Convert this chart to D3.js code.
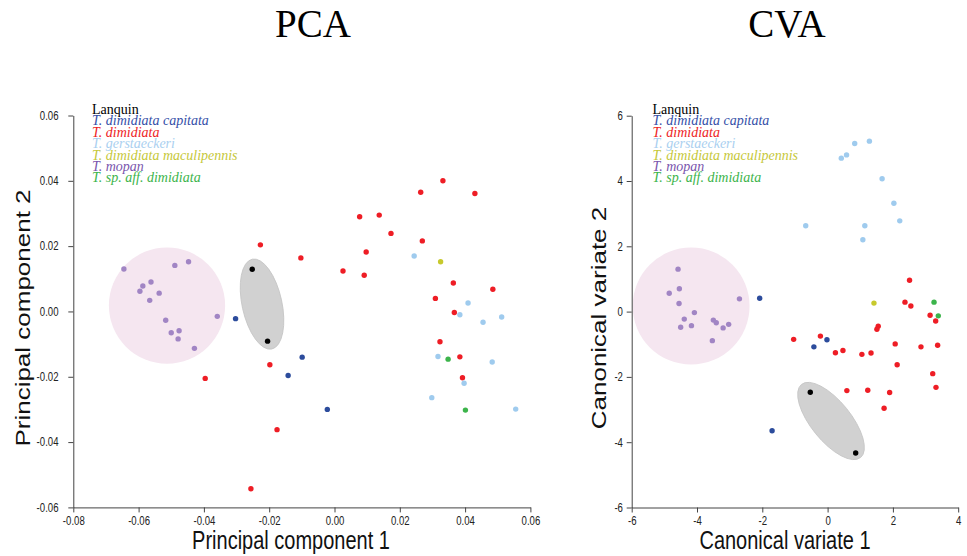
<!DOCTYPE html>
<html><head><meta charset="utf-8">
<script src="https://cdn.jsdelivr.net/npm/d3@7"></script>
<style>
html,body{margin:0;padding:0;background:#fff;}
svg{display:block;}
</style></head>
<body>
<svg id="chart" width="967" height="556"></svg>
<script>
// ---------- DATA ----------
const legendLabels = ["Lanquin","T. dimidiata capitata","T. dimidiata","T. gerstaeckeri","T. dimidiata maculipennis","T. mopan","T. sp. aff. dimidiata"];
const groupKeys = ["lanquin","capitata","dimidiata","gerstaeckeri","maculipennis","mopan","spaff"];

// PCA scores [PC1, PC2]
const pcaLanquin = [[-0.0252,0.0129],[-0.0205,-0.0091]];
const pcaCapitata = [[-0.0303,-0.0022],[-0.0099,-0.0140],[-0.0142,-0.0196],[-0.0022,-0.0300]];
const pcaDimidiata = [[-0.0227,0.0204],[-0.0103,0.0164],[0.0332,0.0400],[0.0264,0.0365],[0.0430,0.0361],
  [0.0077,0.0290],[0.0137,0.0295],[0.0173,0.0239],[0.0269,0.0216],[0.0097,0.0182],[0.0026,0.0124],
  [0.0091,0.0111],[0.0364,0.0087],[0.0485,0.0068],[0.0309,0.0040],[0.0367,-0.0003],[0.0323,-0.0093],
  [0.0384,-0.0139],[0.0392,-0.0203],[-0.0198,-0.0163],[-0.0176,-0.0362],[-0.0256,-0.0543],[-0.0396,-0.0205]];
const pcaGerstaeckeri = [[0.0244,0.0170],[0.0409,0.0026],[0.0384,-0.0010],[0.0455,-0.0033],[0.0512,-0.0017],
  [0.0317,-0.0138],[0.0483,-0.0155],[0.0397,-0.0220],[0.0298,-0.0264],[0.0555,-0.0299]];
const pcaMaculipennis = [[0.0325,0.0152]];
const pcaMopan = [[-0.0645,0.0130],[-0.0489,0.0141],[-0.0447,0.0152],[-0.0562,0.0090],[-0.0587,0.0078],
  [-0.0596,0.0062],[-0.0537,0.0056],[-0.0566,0.0034],[-0.0359,-0.0015],[-0.0517,-0.0027],[-0.0500,-0.0065],
  [-0.0476,-0.0059],[-0.0479,-0.0084],[-0.0429,-0.0113]];
const pcaSpAff = [[0.0348,-0.0146],[0.0401,-0.0302]];

// CVA scores [CV1, CV2]
const cvaLanquin = [[-0.53,-2.47],[0.86,-4.33]];
const cvaCapitata = [[-2.08,0.41],[-0.42,-1.08],[-0.02,-0.86],[-1.70,-3.65]];
const cvaDimidiata = [[2.51,0.96],[2.37,0.29],[2.55,0.17],[3.14,-0.11],[3.31,-0.29],[1.55,-0.45],[1.51,-0.54],
  [-1.04,-0.85],[-0.22,-0.75],[0.24,-1.26],[0.47,-1.19],[1.05,-1.31],[1.33,-1.27],[2.07,-0.99],[2.86,-1.08],
  [3.37,-1.03],[2.13,-1.63],[3.22,-1.90],[3.32,-2.32],[0.59,-2.42],[1.23,-2.41],[1.90,-2.48],[1.73,-2.96]];
const cvaGerstaeckeri = [[0.83,5.15],[1.28,5.22],[0.58,4.80],[0.42,4.70],[1.67,4.07],[2.03,3.32],[2.21,2.78],
  [-0.67,2.63],[1.14,2.63],[1.08,2.20]];
const cvaMaculipennis = [[1.42,0.26]];
const cvaMopan = [[-4.58,1.30],[-4.54,0.70],[-4.85,0.56],[-4.55,0.25],[-4.08,-0.03],[-4.39,-0.23],[-4.50,-0.48],
  [-4.17,-0.43],[-3.50,-0.26],[-3.41,-0.34],[-3.20,-0.50],[-3.03,-0.39],[-3.53,-0.89],[-2.70,0.39]];
const cvaSpAff = [[3.26,0.29],[3.39,-0.13]];

// highlighted regions: mopan circle [cx, cy, r]; Lanquin ellipse [major-axis end 1, end 2, minor semi-axis]
const pcaCircle = [-0.0513, 0.0018, 0.0178];
const pcaEllipse = [[-0.0252,0.0160],[-0.0192,-0.0115],0.0061];
const cvaCircle = [-4.18, 0.17, 1.79];
const cvaEllipse = [[-0.80,-2.23],[1.01,-4.47],0.61];

// axis ticks
const pcaXTicks = [-0.08,-0.06,-0.04,-0.02,0.00,0.02,0.04,0.06];
const pcaYTicks = [-0.06,-0.04,-0.02,0.00,0.02,0.04,0.06];
const cvaXTicks = [-6,-4,-2,0,2,4];
const cvaYTicks = [-6,-4,-2,0,2,4,6];

// ---------- STYLE ----------
const dotColor = {lanquin:"#000000",capitata:"#2c4c9c",dimidiata:"#ee1d25",gerstaeckeri:"#9fcbee",
  maculipennis:"#c7c92c",mopan:"#a185c4",spaff:"#3cb44b"};
const textColor = {lanquin:"#000000",capitata:"#3550a8",dimidiata:"#ee1d25",gerstaeckeri:"#aad0f0",
  maculipennis:"#c6c83a",mopan:"#7a56ad",spaff:"#3cb44b"};
const SQ = 0.8; // horizontal condensation of sans text

const svg = d3.select("#chart");

function panel(opts){
  const g = svg.append("g");
  const x = d3.scaleLinear().domain(opts.xDomain).range(opts.xRange);
  const y = d3.scaleLinear().domain(opts.yDomain).range(opts.yRange);

  // title
  g.append("text").attr("x", opts.titleX).attr("y", 37).attr("text-anchor","middle")
    .attr("font-family","'Liberation Serif','Times New Roman',serif").attr("font-size",39)
    .text(opts.title);

  // mopan circle
  const c = opts.circle;
  g.append("ellipse").attr("cx", x(c[0])).attr("cy", y(c[1]))
    .attr("rx", Math.abs(x(c[2]) - x(0))).attr("ry", Math.abs(y(c[2]) - y(0)))
    .attr("fill","#f5e6f0");

  // Lanquin ellipse
  const e = opts.ellipse;
  const p1 = [x(e[0][0]), y(e[0][1])], p2 = [x(e[1][0]), y(e[1][1])];
  const cx = (p1[0]+p2[0])/2, cy = (p1[1]+p2[1])/2;
  const a = Math.hypot(p2[0]-p1[0], p2[1]-p1[1])/2;
  const b = Math.abs(x(e[2]) - x(0));
  const ang = Math.atan2(p2[1]-p1[1], p2[0]-p1[0]) * 180/Math.PI;
  g.append("ellipse").attr("cx",0).attr("cy",0).attr("rx",a).attr("ry",b)
    .attr("transform",`translate(${cx},${cy}) rotate(${ang})`)
    .attr("fill","#d1d1d1").attr("stroke","#c4c4c4").attr("stroke-width",0.8);

  // axes
  const fmt = opts.fmt;
  const xa = g.append("g").attr("transform",`translate(0,${opts.yRange[0]})`)
    .call(d3.axisBottom(x).tickValues(opts.xTicks).tickFormat(fmt).tickSize(5).tickSizeOuter(0).tickPadding(4));
  const ya = g.append("g").attr("transform",`translate(${opts.xRange[0]},0)`)
    .call(d3.axisLeft(y).tickValues(opts.yTicks).tickFormat(fmt).tickSize(5).tickSizeOuter(0).tickPadding(opts.yPad));
  [xa, ya].forEach(ax => {
    ax.select(".domain").attr("stroke","#444");
    ax.selectAll(".tick line").attr("stroke","#444");
    ax.selectAll("text").attr("font-family","'Liberation Sans',Arial,sans-serif").attr("font-size",12)
      .attr("fill","#222").attr("transform",`scale(${SQ},1)`);
  });

  // axis labels
  g.append("text").attr("text-anchor","middle")
    .attr("transform",`translate(${opts.xLabelX},549) scale(${SQ},1)`)
    .attr("font-family","'Liberation Sans',Arial,sans-serif").attr("font-size",25).attr("fill","#111")
    .text(opts.xLabel);
  g.append("text").attr("text-anchor","middle")
    .attr("transform",`translate(${opts.yLabelX},318) rotate(-90) scale(1,${SQ})`)
    .attr("font-family","'Liberation Sans',Arial,sans-serif").attr("font-size",26).attr("fill","#111")
    .text(opts.yLabel);

  // legend
  const lg = g.append("g");
  legendLabels.forEach((lab,i) => {
    lg.append("text").attr("x", opts.legendX).attr("y", 114 + i*11.4)
      .attr("font-family","'Liberation Serif','Times New Roman',serif").attr("font-size",14)
      .attr("font-style", i===0 ? "normal" : "italic")
      .attr("fill", textColor[groupKeys[i]]).text(lab);
  });

  // points
  opts.groups.forEach((pts,i) => {
    g.append("g").selectAll("circle").data(pts).join("circle")
      .attr("cx", d => x(d[0])).attr("cy", d => y(d[1])).attr("r", 2.7)
      .attr("fill", dotColor[groupKeys[i]]);
  });
}

panel({
  title:"PCA", titleX:313,
  xDomain:[-0.08,0.06], xRange:[73.3,530.4],
  yDomain:[-0.06,0.06], yRange:[507.4,115.5],
  xTicks:pcaXTicks, yTicks:pcaYTicks, fmt:d => d.toFixed(2), yPad:13.5,
  circle:pcaCircle, ellipse:pcaEllipse,
  xLabel:"Principal component 1", xLabelX:291,
  yLabel:"Principal component 2", yLabelX:30,
  legendX:92,
  groups:[pcaLanquin,pcaCapitata,pcaDimidiata,pcaGerstaeckeri,pcaMaculipennis,pcaMopan,pcaSpAff]
});

panel({
  title:"CVA", titleX:787,
  xDomain:[-6,4], xRange:[631.7,958.2],
  yDomain:[-6,6], yRange:[507.5,115.7],
  xTicks:cvaXTicks, yTicks:cvaYTicks, fmt:d => String(d), yPad:6,
  circle:cvaCircle, ellipse:cvaEllipse,
  xLabel:"Canonical variate 1", xLabelX:785,
  yLabel:"Canonical variate 2", yLabelX:606,
  legendX:652.5,
  groups:[cvaLanquin,cvaCapitata,cvaDimidiata,cvaGerstaeckeri,cvaMaculipennis,cvaMopan,cvaSpAff]
});
</script>
</body></html>
